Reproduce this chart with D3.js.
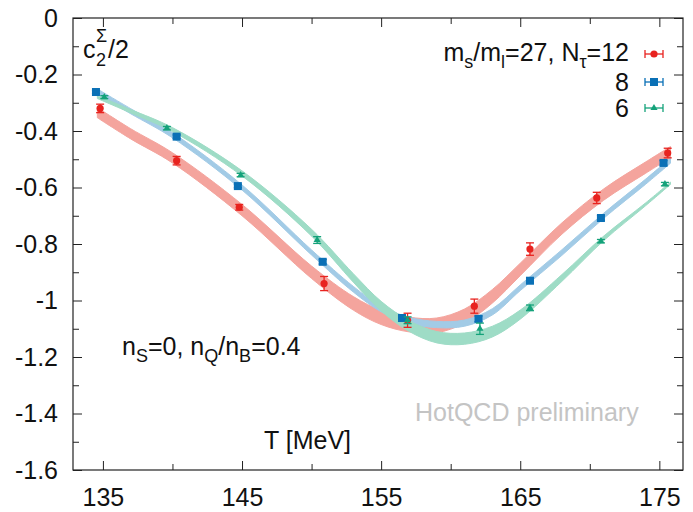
<!DOCTYPE html>
<html>
<head>
<meta charset="utf-8">
<script src="https://cdn.jsdelivr.net/npm/d3@7"></script>
<style>
body { margin: 0; background: #fff; }
text { font-family: "Liberation Sans", Arial, sans-serif; }
</style>
</head>
<body>
<div id="main"></div>
<script>
// ================= data =================
// lattice points, N_tau = 12 / 8 / 6
var tRed   = [134.8, 140.3, 144.8, 150.9, 156.9, 161.7, 165.7, 170.5, 175.6];
var vRed   = [-0.32, -0.505, -0.67, -0.94, -1.07, -1.02, -0.818, -0.637, -0.478];
var eRed   = [0.015, 0.015, 0.01, 0.025, 0.025, 0.025, 0.022, 0.02, 0.017];

var tBlue  = [134.5, 140.3, 144.7, 150.8, 156.5, 162.0, 165.7, 170.8, 175.3];
var vBlue  = [-0.262, -0.42, -0.595, -0.863, -1.062, -1.065, -0.93, -0.708, -0.513];
var eBlue  = [0.006, 0.006, 0.006, 0.008, 0.01, 0.01, 0.008, 0.008, 0.008];

var tGreen = [135.1, 139.6, 144.9, 150.4, 156.9, 162.1, 165.7, 170.8, 175.4];
var vGreen = [-0.28, -0.39, -0.556, -0.786, -1.07, -1.10, -1.026, -0.79, -0.588];
var eGreen = [0.005, 0.006, 0.006, 0.012, 0.012, 0.02, 0.01, 0.006, 0.006];

// fitted bands: temperature, centre, half width
var bandT      = [134.6, 137, 140, 145, 150, 153, 155, 157, 159, 161, 163, 165, 168, 171, 174, 175.8];
var bandRed    = [-0.335, -0.41, -0.495, -0.68, -0.90, -1.01, -1.06, -1.085, -1.088, -1.055, -0.985, -0.89, -0.745, -0.625, -0.53, -0.475];
var bandRedW   = [0.018, 0.018, 0.018, 0.02, 0.022, 0.024, 0.025, 0.026, 0.026, 0.025, 0.024, 0.022, 0.02, 0.02, 0.02, 0.02];
var bandBlue   = [-0.26, -0.33, -0.415, -0.60, -0.83, -0.96, -1.03, -1.07, -1.085, -1.08, -1.04, -0.955, -0.83, -0.70, -0.58, -0.505];
var bandBlueW  = [0.009, 0.009, 0.009, 0.009, 0.009, 0.01, 0.01, 0.011, 0.011, 0.011, 0.011, 0.01, 0.01, 0.009, 0.009, 0.009];
var bandGreen  = [-0.28, -0.33, -0.395, -0.55, -0.76, -0.92, -1.02, -1.09, -1.13, -1.135, -1.11, -1.05, -0.92, -0.78, -0.66, -0.585];
var bandGreenW = [0.005, 0.006, 0.007, 0.009, 0.012, 0.015, 0.017, 0.019, 0.02, 0.02, 0.019, 0.016, 0.012, 0.008, 0.005, 0.004];

var xTicks = [135, 145, 155, 165, 175];
var xMinor = [140, 150, 160, 170];
var yTicks = [0, -0.2, -0.4, -0.6, -0.8, -1, -1.2, -1.4, -1.6];
var yMinor = [-0.1, -0.3, -0.5, -0.7, -0.9, -1.1, -1.3, -1.5];

var legendLabels = ["12", "8", "6"];

// ================= layout =================
const W = 693, H = 512;
const mLeft = 73, mRight = 683, mTop = 18, mBottom = 470;
const fs = 25, fsSub = 18;

const svg = d3.select('#main').append('svg')
	.attr('width', W).attr('height', H);

var x = d3.scaleLinear().domain([132.85, 176.7]).range([mLeft, mRight]);
var y = d3.scaleLinear().domain([0, -1.6]).range([mTop, mBottom]);

var series = [
	{t: tRed, v: vRed, e: eRed, band: bandRed, w: bandRedW, col: '#e8231f', light: '#f4a49d', shape: 'circle'},
	{t: tBlue, v: vBlue, e: eBlue, band: bandBlue, w: bandBlueW, col: '#0a70b6', light: '#a2cbe6', shape: 'square'},
	{t: tGreen, v: vGreen, e: eGreen, band: bandGreen, w: bandGreenW, col: '#14a27a', light: '#9edcc6', shape: 'triangle'}
];

// bands
series.forEach(function(s){
	var rows = bandT.map((t, i) => ({t: t, c: s.band[i], w: s.w[i]}));
	var area = d3.area()
		.x(d => x(d.t))
		.y0(d => y(d.c - d.w))
		.y1(d => y(d.c + d.w))
		.curve(d3.curveCatmullRom.alpha(0.5));
	svg.append('path').datum(rows)
		.attr('d', area)
		.attr('fill', s.light)
		.attr('stroke', s.light)
		.attr('stroke-width', 1);
});

// symbols
function drawMark(g, shape, cx, cy, col){
	if(shape == 'circle'){
		g.append('circle').attr('cx', cx).attr('cy', cy).attr('r', 3.6).attr('fill', col);
	}else if(shape == 'square'){
		g.append('rect').attr('x', cx-4).attr('y', cy-4).attr('width', 8).attr('height', 8).attr('fill', col);
	}else{
		g.append('path').attr('d', d3.symbol(d3.symbolTriangle, 22)()).attr('transform', 'translate('+cx+','+cy+')').attr('fill', col);
	}
}

series.forEach(function(s){
	var g = svg.append('g');
	s.t.forEach(function(t, i){
		var cx = x(t), y0 = y(s.v[i] + s.e[i]), y1 = y(s.v[i] - s.e[i]);
		g.append('line').attr('x1', cx).attr('x2', cx).attr('y1', y0).attr('y2', y1)
			.attr('stroke', s.col).attr('stroke-width', 1.3);
		[y0, y1].forEach(function(yy){
			g.append('line').attr('x1', cx-4).attr('x2', cx+4).attr('y1', yy).attr('y2', yy)
				.attr('stroke', s.col).attr('stroke-width', 1.3);
		});
		drawMark(g, s.shape, cx, y(s.v[i]), s.col);
	});
});

// ================= axes =================
var fmt = d => String(+(+d).toFixed(1));

svg.append('g').attr('transform', 'translate(0,'+mBottom+')')
	.call(d3.axisBottom(x).tickValues(xTicks).tickFormat(fmt).tickSize(-9).tickPadding(18));
svg.append('g').attr('transform', 'translate(0,'+mBottom+')')
	.call(d3.axisBottom(x).tickValues(xMinor).tickFormat('').tickSize(-6));
svg.append('g').attr('transform', 'translate(0,'+mTop+')')
	.call(d3.axisTop(x).tickValues(xTicks).tickFormat('').tickSize(-9));
svg.append('g').attr('transform', 'translate(0,'+mTop+')')
	.call(d3.axisTop(x).tickValues(xMinor).tickFormat('').tickSize(-6));

svg.append('g').attr('transform', 'translate('+mLeft+',0)')
	.call(d3.axisLeft(y).tickValues(yTicks).tickFormat(fmt).tickSize(-9).tickPadding(15));
svg.append('g').attr('transform', 'translate('+mLeft+',0)')
	.call(d3.axisLeft(y).tickValues(yMinor).tickFormat('').tickSize(-6));
svg.append('g').attr('transform', 'translate('+mRight+',0)')
	.call(d3.axisRight(y).tickValues(yTicks).tickFormat('').tickSize(-9));
svg.append('g').attr('transform', 'translate('+mRight+',0)')
	.call(d3.axisRight(y).tickValues(yMinor).tickFormat('').tickSize(-6));

svg.selectAll('.domain').remove();
svg.selectAll('.tick line').attr('stroke', '#222').attr('stroke-width', 1);
svg.selectAll('.tick text').attr('font-size', fs).attr('fill', '#111')
	.attr('font-family', '"Liberation Sans", Arial, sans-serif');

svg.append('rect').attr('x', mLeft).attr('y', mTop)
	.attr('width', mRight-mLeft).attr('height', mBottom-mTop)
	.attr('fill', 'none').attr('stroke', '#222').attr('stroke-width', 1.2);

// ================= texts =================
var yl = svg.append('g').attr('fill', '#111');
yl.append('text').attr('x', 83).attr('y', 58).attr('font-size', fs).text('c');
yl.append('text').attr('x', 96).attr('y', 42).attr('font-size', fsSub).text('Σ');
yl.append('text').attr('x', 96).attr('y', 66).attr('font-size', fsSub).text('2');
yl.append('text').attr('x', 108).attr('y', 58).attr('font-size', fs).text('/2');

var lg = svg.append('text').attr('x', 629).attr('y', 61)
	.attr('text-anchor', 'end').attr('font-size', fs).attr('fill', '#111');
lg.append('tspan').text('m');
lg.append('tspan').attr('font-size', fsSub).attr('dy', 7).text('s');
lg.append('tspan').attr('dy', -7).text('/m');
lg.append('tspan').attr('font-size', fsSub).attr('dy', 7).text('l');
lg.append('tspan').attr('dy', -7).text('=27, N');
lg.append('tspan').attr('font-size', fsSub).attr('dy', 7).text('τ');
lg.append('tspan').attr('dy', -7).text('=' + legendLabels[0]);

var legY = [54, 82, 108];
series.forEach(function(s, i){
	if(i > 0){
		svg.append('text').attr('x', 629).attr('y', legY[i] + 9)
			.attr('text-anchor', 'end').attr('font-size', fs).attr('fill', '#111')
			.text(legendLabels[i]);
	}
	var g = svg.append('g');
	var cx = 654, cy = legY[i];
	g.append('line').attr('x1', cx-9).attr('x2', cx+9).attr('y1', cy).attr('y2', cy)
		.attr('stroke', s.col).attr('stroke-width', 1.3);
	[cx-9, cx+9].forEach(function(xx){
		g.append('line').attr('x1', xx).attr('x2', xx).attr('y1', cy-4).attr('y2', cy+4)
			.attr('stroke', s.col).attr('stroke-width', 1.3);
	});
	drawMark(g, s.shape, cx, cy, s.col);
});

var nt = svg.append('text').attr('x', 122).attr('y', 355)
	.attr('font-size', fs).attr('fill', '#111');
nt.append('tspan').text('n');
nt.append('tspan').attr('font-size', fsSub).attr('dy', 7).text('S');
nt.append('tspan').attr('dy', -7).text('=0, n');
nt.append('tspan').attr('font-size', fsSub).attr('dy', 7).text('Q');
nt.append('tspan').attr('dy', -7).text('/n');
nt.append('tspan').attr('font-size', fsSub).attr('dy', 7).text('B');
nt.append('tspan').attr('dy', -7).text('=0.4');

svg.append('text').attr('x', 415).attr('y', 421)
	.attr('font-size', fs).attr('fill', '#c4c4c4').text('HotQCD preliminary');

svg.append('text').attr('x', 264).attr('y', 449)
	.attr('font-size', fs).attr('fill', '#111').text('T [MeV]');
</script>
</body>
</html>
